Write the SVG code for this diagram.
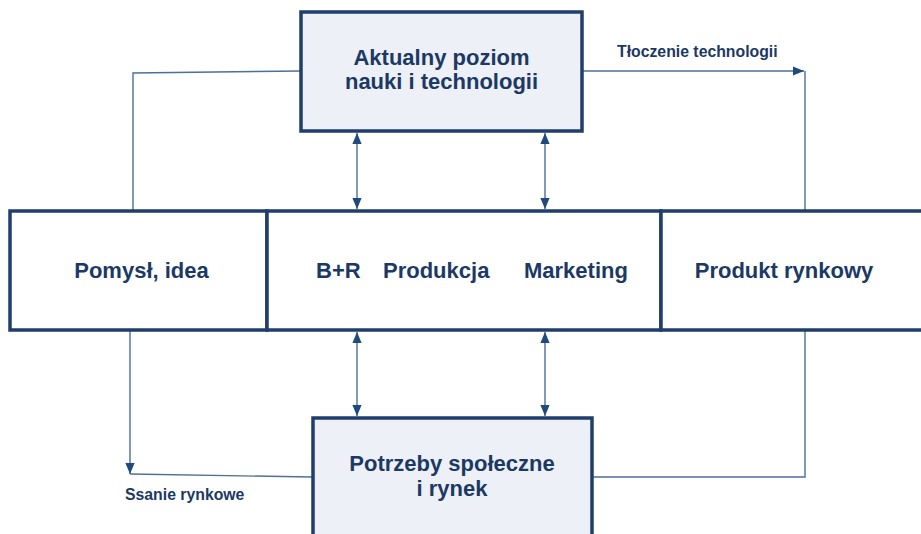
<svg xmlns="http://www.w3.org/2000/svg" width="921" height="534" viewBox="0 0 921 534">
<defs>
<style>
.box{stroke:#1f3e6b;stroke-width:3.5;}
.fill{fill:#edf0f6;}
.white{fill:#ffffff;}
.conn{fill:none;stroke:#4d6f9c;stroke-width:1.4;}
.t{font-family:"Liberation Sans",Arial,sans-serif;font-weight:bold;fill:#1b3964;}
.big{font-size:22px;}
.lbl{font-size:15.8px;}
</style>
<marker id="ah" viewBox="0 0 10 10" refX="10" refY="5" markerWidth="11" markerHeight="11" markerUnits="userSpaceOnUse" orient="auto-start-reverse">
<path d="M0,0.8 L10,5 L0,9.2 Z" fill="#1f4a7e"/>
</marker>
</defs>
<rect width="921" height="534" fill="#ffffff"/>
<g id="connectors">
<polyline class="conn" points="301,71 133,73 133,210"/>
<polyline class="conn" points="582,71 804,71" marker-end="url(#ah)"/>
<polyline class="conn" points="805,71 805,210"/>
<line class="conn" x1="357" y1="133" x2="357" y2="209" marker-start="url(#ah)" marker-end="url(#ah)"/>
<line class="conn" x1="545" y1="133" x2="545" y2="209" marker-start="url(#ah)" marker-end="url(#ah)"/>
<line class="conn" x1="357" y1="332" x2="357" y2="416" marker-start="url(#ah)" marker-end="url(#ah)"/>
<line class="conn" x1="545" y1="332" x2="545" y2="416" marker-start="url(#ah)" marker-end="url(#ah)"/>
<polyline class="conn" points="130,331 130,474" marker-end="url(#ah)"/>
<polyline class="conn" points="130,474 312,477"/>
<polyline class="conn" points="592,477 805,477 805,331"/>
<text class="t lbl" x="617" y="57">Tłoczenie technologii</text>
<text class="t lbl" x="125" y="500">Ssanie rynkowe</text>
</g>
<g id="nauka">
<rect class="box fill" x="301" y="12" width="281" height="119"/>
<text class="t big" x="441.5" y="65" text-anchor="middle">Aktualny poziom</text>
<text class="t big" x="441.5" y="89" text-anchor="middle">nauki i technologii</text>
</g>
<g id="pomysl">
<rect class="box white" x="10" y="211" width="257" height="119"/>
<text class="t big" x="141.5" y="278" text-anchor="middle">Pomysł, idea</text>
</g>
<g id="proces">
<rect class="box white" x="267" y="211" width="394" height="119"/>
<text class="t big" x="316" y="278">B+R</text>
<text class="t big" x="383" y="278">Produkcja</text>
<text class="t big" x="524" y="278">Marketing</text>
</g>
<g id="produkt">
<rect class="box white" x="661" y="211" width="270" height="119"/>
<text class="t big" x="784" y="278" text-anchor="middle">Produkt rynkowy</text>
</g>
<g id="potrzeby">
<rect class="box fill" x="313" y="418" width="279" height="130"/>
<text class="t big" x="452" y="471" text-anchor="middle">Potrzeby społeczne</text>
<text class="t big" x="452" y="496" text-anchor="middle">i rynek</text>
</g>
</svg>
